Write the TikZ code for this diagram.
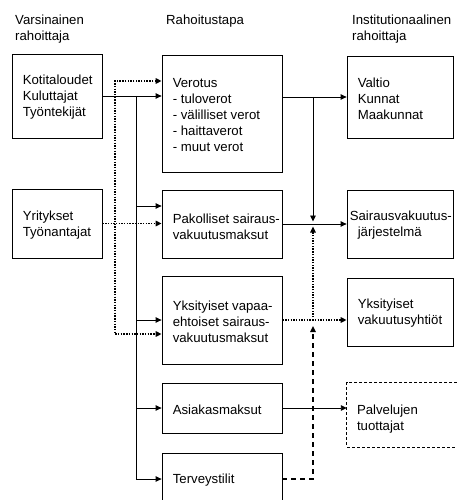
\documentclass[tikz,border=0pt]{standalone}
\usepackage{fontspec}
\setmainfont{Liberation Sans}
\usetikzlibrary{arrows.meta,calc}
\begin{document}
\begin{tikzpicture}[x=1pt,y=-1pt,
  box/.style={draw,line width=0.8pt,inner sep=0pt},
  txt/.style={anchor=west,align=left,inner sep=0pt,yshift=-1.5pt,font=\fontsize{13.2}{16}\selectfont},
  hdr/.style={anchor=base west,inner sep=0pt,font=\fontsize{13.2}{16}\selectfont},
  tip/.style={-{Triangle[length=6pt,width=5.5pt]}},
  arr/.style={line width=0.9pt,tip},
  ln/.style={line width=0.9pt},
  dot/.style={line width=1.5pt,dash pattern=on 1.4pt off 1.3pt},
  dsh/.style={line width=1.5pt,dash pattern=on 5pt off 4pt},
  thindash/.style={line width=0.7pt,dash pattern=on 3pt off 2pt}
]
\useasboundingbox (0,0) rectangle (457,500);

% headers
\node[hdr] (h1) at (15,25) {Varsinainen};
\node[hdr] (h1b) at (15,41) {rahoittaja};
\node[hdr] (h2) at (166,25) {Rahoitustapa};
\node[hdr] (h3) at (352,25) {Institutionaalinen};
\node[hdr] (h3b) at (352,41) {rahoittaja};

% left boxes
\node[box,minimum width=90pt,minimum height=84pt] (k) at (57,96) {};
\node[txt] (kt) at ([xshift=11pt]k.west) {Kotitaloudet\\Kuluttajat\\Työntekijät};
\node[box,minimum width=90pt,minimum height=69pt] (y) at (57,223.5) {};
\node[txt] (yt) at ([xshift=11pt]y.west) {Yritykset\\Työnantajat};

% middle boxes
\node[box,minimum width=120pt,minimum height=117pt] (v) at (222,113.5) {};
\node[txt] (vt) at ([xshift=11pt]v.west) {Verotus\\- tuloverot\\- välilliset verot\\- haittaverot\\- muut verot};
\node[box,minimum width=120pt,minimum height=68pt] (p) at (222,224) {};
\node[txt] (pt) at ([xshift=11pt,yshift=-1pt]p.west) {Pakolliset sairaus-\\vakuutusmaksut};
\node[box,minimum width=120pt,minimum height=88pt] (yv) at (222,320) {};
\node[txt] (yvt) at ([xshift=11pt]yv.west) {Yksityiset vapaa-\\ehtoiset sairaus-\\vakuutusmaksut};
\node[box,minimum width=120pt,minimum height=50pt] (a) at (222,408) {};
\node[txt] (at) at ([xshift=11pt]a.west) {Asiakasmaksut};
\node[box,minimum width=120pt,minimum height=52pt] (t) at (222,479) {};
\node[txt] (tt) at ([xshift=11pt]t.west) {Terveystilit};

% right boxes
\node[box,minimum width=106pt,minimum height=82pt] (va) at (400,97) {};
\node[txt] (vat) at ([xshift=11pt]va.west) {Valtio\\Kunnat\\Maakunnat};
\node[box,minimum width=106pt,minimum height=68pt] (s) at (400,224) {};
\node[txt] (st) at ([xshift=3pt]s.west) {Sairausvakuutus-\\\hspace*{8pt}järjestelmä};
\node[box,minimum width=106pt,minimum height=68pt] (yk) at (400,312) {};
\node[txt] (ykt) at ([xshift=11pt]yk.west) {Yksityiset\\vakuutusyhtiöt};
\node[inner sep=0pt,minimum width=110pt,minimum height=64pt] (pal) at (402,415) {};
\draw[thindash] (pal.north east) -- (pal.north west) -- (pal.south west) -- (pal.south east);
\node[txt] (palt) at ([xshift=10pt,yshift=-3pt]pal.west) {Palvelujen\\tuottajat};

% left connectors: dotted
\coordinate (d1) at (115,81);
\coordinate (d2) at (115,334);
\draw[dot,{Triangle[length=6pt,width=5.5pt]}-{Triangle[length=6pt,width=5.5pt]}]
  (d1 -| v.west) -- (d1) -- (d2) -- (d2 -| yv.west);
\draw[dot,tip] (y.east) -- (y.east -| p.west);

% left connectors: solid
\coordinate (s1) at (136,96);
\coordinate (s2) at (136,479);
\coordinate (sp) at (136,206);
\coordinate (syv) at (136,320);
\draw[arr] (k.east) -- (k.east -| v.west);
\draw[arr] (s1) -- (s2) -- (s2 -| t.west);
\draw[arr] (sp) -- (sp -| p.west);
\draw[arr] (syv) -- (syv -| yv.west);
\draw[arr] (a.west -| s1) -- (a.west);

% right connectors
\coordinate (r1) at (313,97);
\coordinate (r2) at (313,221.5);
\coordinate (r3) at (313,320);
\coordinate (r4) at (313,226.5);
\coordinate (r5) at (313,326);
\draw[arr] (v.east |- va.west) -- (va.west);
\draw[arr] (r1) -- (r2);
\draw[arr] (p.east) -- (p.east -| s.west);
\draw[dot,tip] (r3) -- (r4);
\draw[dot,tip] (yv.east) -- (yv.east -| yk.west);
\draw[arr] (a.east) -- (a.east -| pal.west);
\draw[dsh,tip] (t.east) -- (t.east -| r3) -- (r5);
\end{tikzpicture}
\end{document}
